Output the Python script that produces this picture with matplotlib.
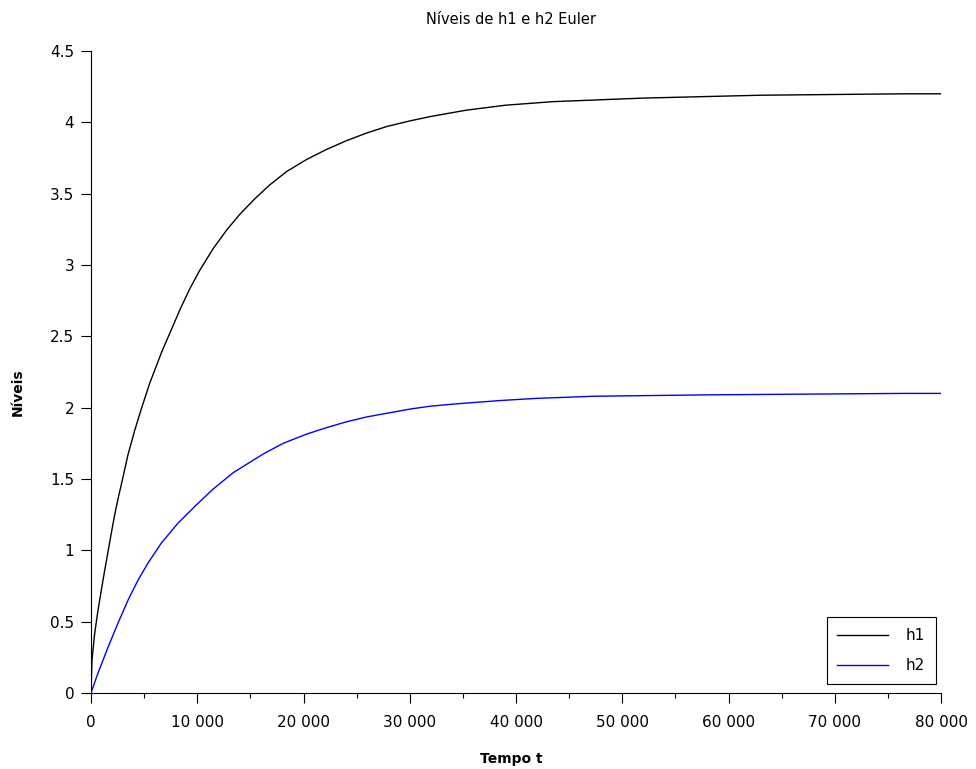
import matplotlib
matplotlib.use('Agg')
import matplotlib.pyplot as plt
from matplotlib.ticker import MultipleLocator, FuncFormatter

# dados (Euler)
t_h1 = [0, 94, 350, 660, 970, 1290, 1600, 1910, 2230, 2540, 2850, 3480,
        4110, 4730, 5520, 6650, 8450, 9310, 10250, 11500, 12770, 14000,
        15430, 16800, 18410, 20300, 22170, 24000, 25940, 27800, 30010,
        31900, 35300, 39000, 43500, 52000, 63000, 76600, 80000]
h1 = [0, 0.23, 0.42, 0.58, 0.72, 0.86, 0.99, 1.12, 1.25, 1.36, 1.46, 1.67,
      1.84, 1.99, 2.17, 2.39, 2.70, 2.835, 2.965, 3.115, 3.245, 3.355,
      3.465, 3.56, 3.655, 3.74, 3.81, 3.87, 3.925, 3.97, 4.01,
      4.04, 4.085, 4.12, 4.145, 4.17, 4.19, 4.20, 4.20]

t_h2 = [0, 660, 1600, 2540, 3480, 4420, 5360, 6610, 8180, 9940, 11500,
        13400, 16200, 18090, 20300, 22170, 24000, 25940, 27800, 30010,
        31900, 34100, 38500, 41900, 47300, 58200, 76600, 80000]
h2 = [0, 0.14, 0.32, 0.49, 0.65, 0.79, 0.91, 1.05, 1.19, 1.32, 1.43,
      1.545, 1.675, 1.75, 1.815, 1.86, 1.90, 1.935, 1.96, 1.99,
      2.01, 2.025, 2.05, 2.065, 2.08, 2.09, 2.10, 2.10]

W, H = 976, 769
fig = plt.figure(figsize=(W / 100, H / 100), dpi=100)
ax = fig.add_axes([91 / W, 1 - 693 / H, (941 - 91) / W, (693 - 51) / H])

ax.plot(t_h1, h1, color='black', linewidth=1.0, label='h1')
ax.plot(t_h2, h2, color='#0000ff', linewidth=1.0, label='h2')

ax.set_xlim(0, 80000)
ax.set_ylim(0, 4.5)

for s in ['top', 'right']:
    ax.spines[s].set_visible(False)
for s in ['left', 'bottom']:
    ax.spines[s].set_linewidth(0.8)

ax.xaxis.set_major_locator(MultipleLocator(10000))
ax.xaxis.set_minor_locator(MultipleLocator(5000))
ax.yaxis.set_major_locator(MultipleLocator(0.5))
ax.xaxis.set_major_formatter(FuncFormatter(lambda v, p: f'{int(v):,}'.replace(',', ' ')))
ax.yaxis.set_major_formatter(FuncFormatter(lambda v, p: f'{v:g}'))

ax.tick_params(axis='both', which='major', direction='out', length=7, width=0.8,
               labelsize=11, colors='black')
ax.tick_params(axis='x', which='minor', direction='out', length=3.6, width=0.8)
ax.tick_params(axis='x', which='major', pad=9)
ax.tick_params(axis='y', which='major', pad=5)

# legenda no canto inferior direito
leg = ax.legend(loc='lower right', bbox_to_anchor=(1.0 - 5 / 850, 9 / 642),
                borderaxespad=0, fontsize=11, fancybox=False, framealpha=1,
                edgecolor='black', handlelength=3.3, handletextpad=1.2,
                borderpad=0.7, labelspacing=1.0)
leg.get_frame().set_linewidth(0.8)

fig.text(511 / W, 1 - 20 / H, 'Níveis de h1 e h2 Euler', ha='center', va='center',
         fontsize=10.5)
fig.text(511 / W, 1 - 759 / H, 'Tempo t', ha='center', va='center', fontsize=10,
         fontweight='bold')
fig.text(18 / W, 1 - 392 / H, 'Níveis', ha='center', va='center', rotation=90,
         fontsize=10, fontweight='bold')

fig.savefig('out.png', dpi=100, facecolor='white')
